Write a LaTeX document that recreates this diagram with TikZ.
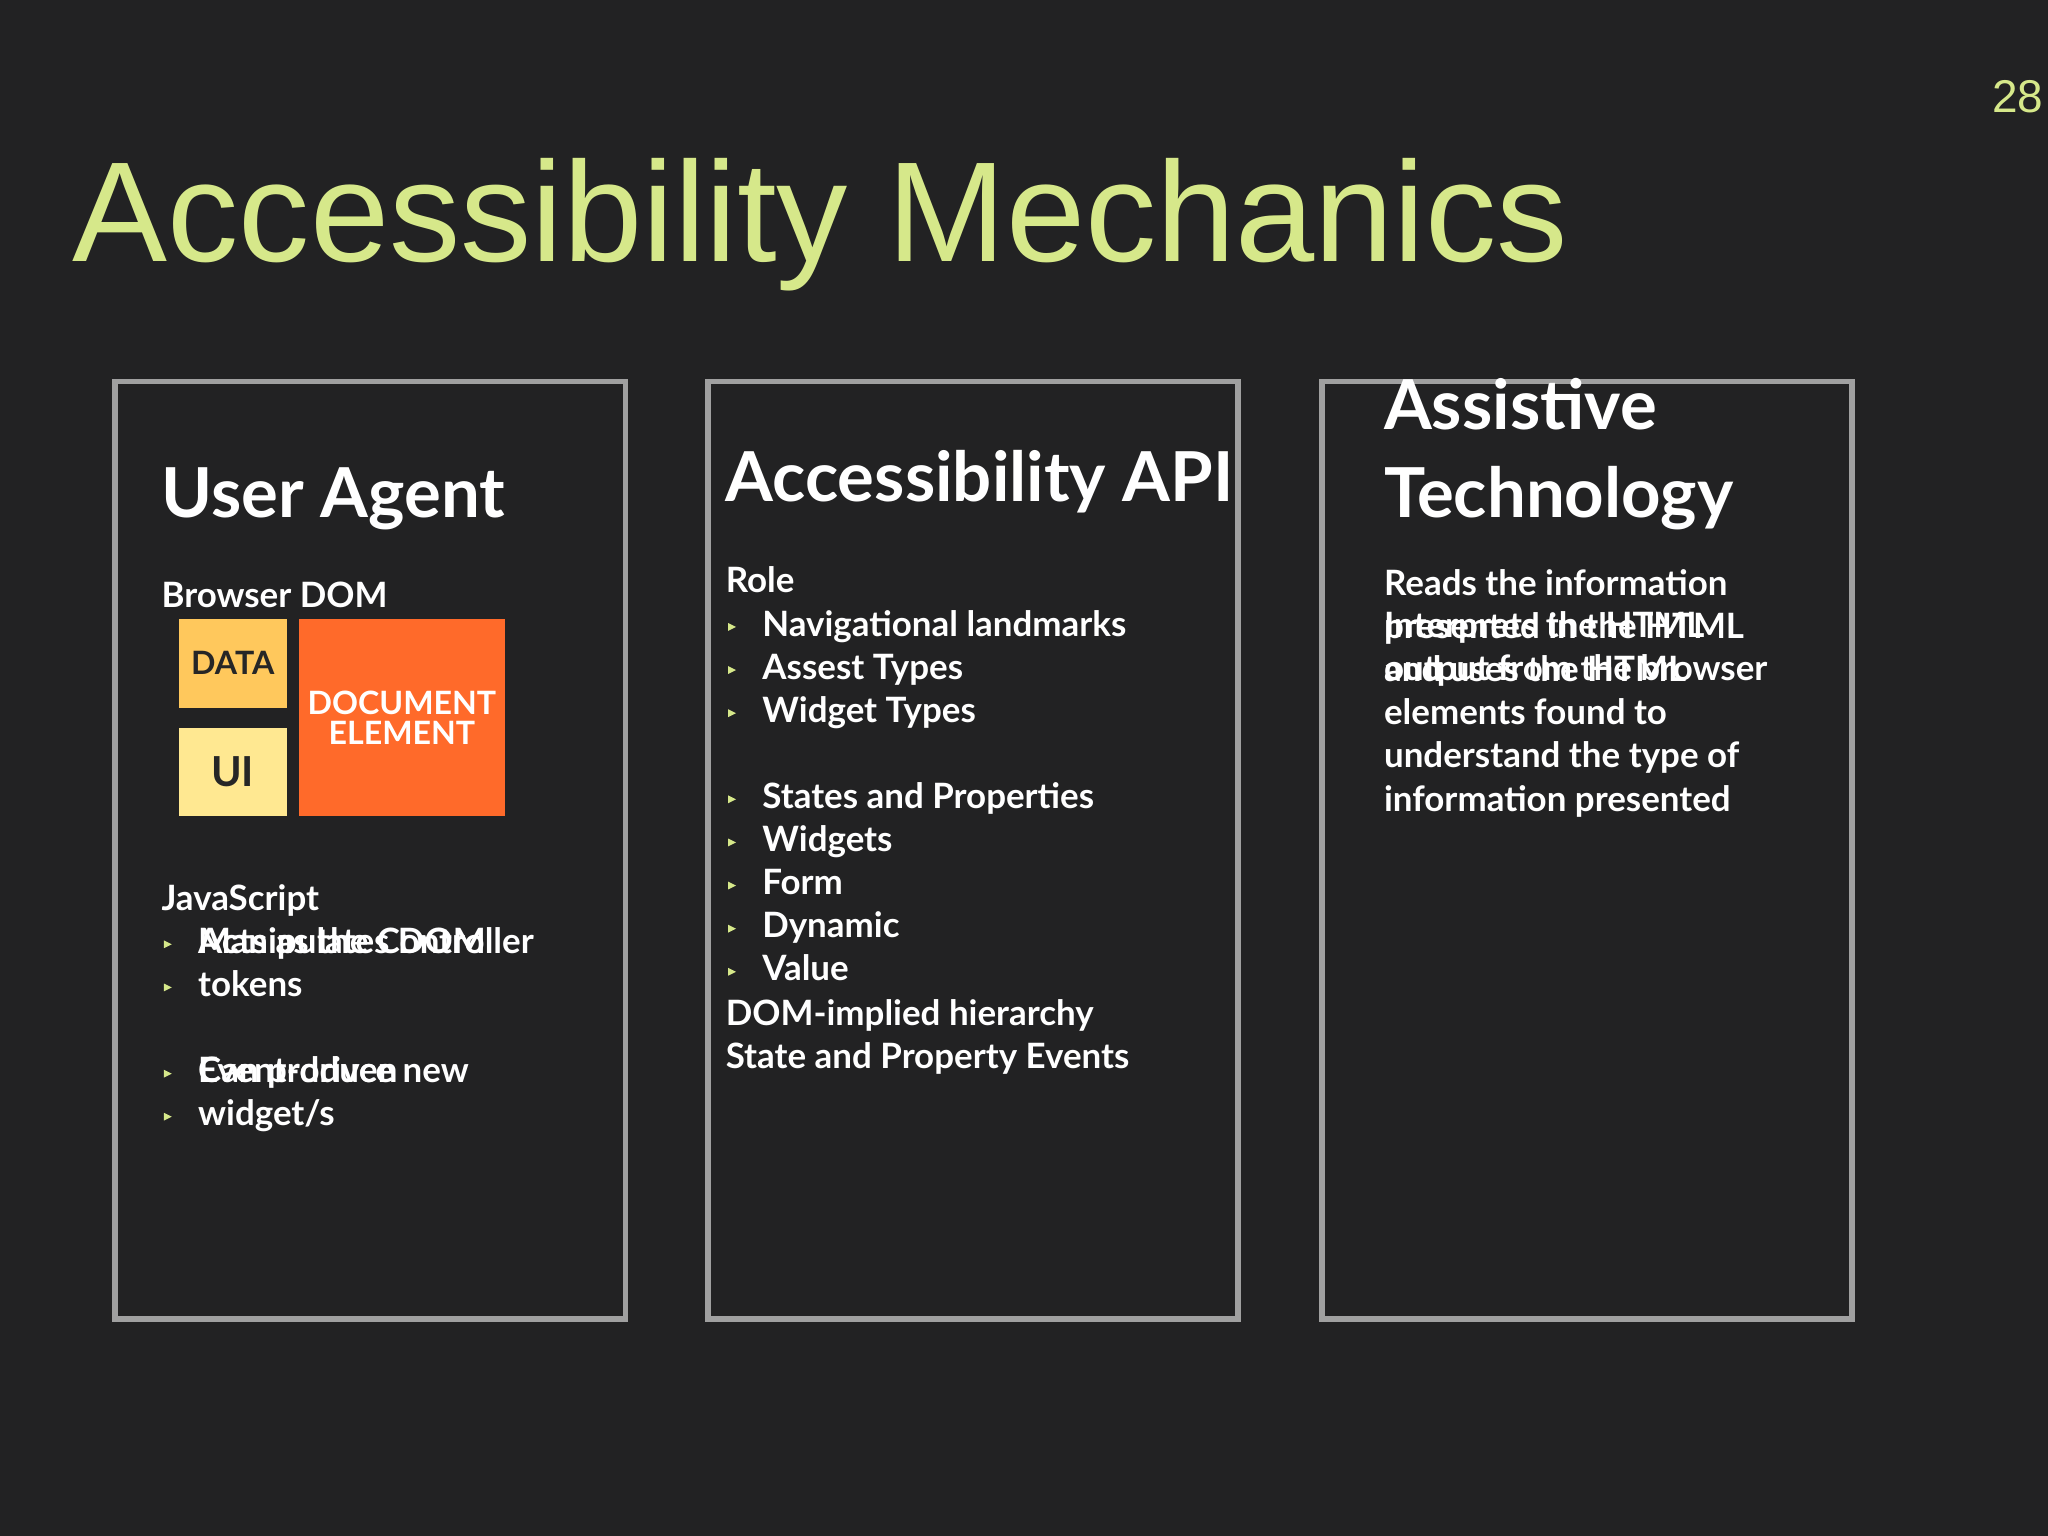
\documentclass[tikz,border=0pt]{standalone}
\usepackage{fontspec}
\setmainfont{Lato}
\newfontfamily\titlefont{Liberation Sans}
\definecolor{bg}{HTML}{222223}
\definecolor{ttl}{HTML}{D6E88A}
\definecolor{frm}{HTML}{A0A0A0}
\definecolor{dat}{HTML}{FFC85C}
\definecolor{uic}{HTML}{FFE891}
\definecolor{doc}{HTML}{FF6A2A}
\tikzset{
 panel/.style={draw=frm,line width=1.2pt},
 head/.style={anchor=base west,inner sep=0,text=white,font=\bfseries\fontsize{15}{19}\selectfont,align=left},
 body/.style={anchor=base west,inner sep=0,text=white,font=\bfseries\fontsize{7.6}{9.4}\selectfont,align=left},
 blt/.style={fill=ttl,draw=none},
 tile/.style={draw=none,inner sep=0,font=\bfseries\fontsize{7}{6.5}\selectfont,align=center}
}
\newcommand{\bul}[2]{\fill[ttl] (#1-2.5,#2-10) -- (#1+3.5,#2-7) -- (#1-2.5,#2-4) -- cycle;}
\begin{document}
\begin{tikzpicture}[x=0.01cm,y=-0.01cm]
\fill[bg] (0,0) rectangle (1568,1176);
\useasboundingbox (0,0) rectangle (1568,1176);
\node[anchor=base east,inner sep=0,text=ttl,font=\titlefont\fontsize{10}{12}\selectfont] (pg) at (1565,86) {28};
\node[anchor=base west,inner sep=0,text=ttl,font=\titlefont\fontsize{31}{36}\selectfont] (title) at (55,200) {Accessibility Mechanics};
\draw[panel] (88,292) rectangle (479,1010);
\draw[panel] (542,292) rectangle (948,1010);
\draw[panel] (1012,292) rectangle (1418,1010);
% left
\node[head] (ua) at (123,396) {User Agent};
\node[body] (bd) at (123,465) {Browser DOM};
\node[tile,fill=dat,minimum width=83*0.01cm,minimum height=68*0.01cm,anchor=north west,text=black!85] (data) at (136,473) {DATA};
\node[tile,fill=uic,minimum width=83*0.01cm,minimum height=67*0.01cm,anchor=north west,text=black!85,font=\bfseries\fontsize{9}{9}\selectfont] (ui) at (136,557) {UI};
\node[tile,fill=doc,minimum width=158*0.01cm,minimum height=151*0.01cm,anchor=north west,text=white] (de) at (228,473) {DOCUMENT\\ELEMENT};
\node[body] (js) at (123,697) {JavaScript};
\node[body] (l1) at (151,730) {Acts as the Controller};
\node[body] (l2) at (151,763) {Manipulates DOM\\tokens};
\node[body] (l3) at (151,829) {Event-driven};
\node[body] (l4) at (151,862) {Can produce new\\widget/s};
\bul{128}{730}\bul{128}{763}\bul{128}{829}\bul{128}{862}
% middle
\node[head] (api) at (555,384) {Accessibility API};
\node[body] (role) at (555,454) {Role};
\foreach \t/\y in {Navigational landmarks/487,Assest Types/520,Widget Types/553,States and Properties/619,Widgets/652,Form/685,Dynamic/718,Value/751}{
 \node[body] at (583,\y) {\t};
 \bul{560}{\y}
}
\node[body] (dom) at (555,818) {DOM-implied hierarchy\\State and Property Events};
% right
\node[head] (at) at (1059,396) {Assistive\\Technology};
\node[body] (r1) at (1059,521) {Interprets the HTML\\output from the browser};
\node[body] (r2) at (1059,621) {Reads the information\\presented in the HTML\\and uses the HTML\\elements found to\\understand the type of\\information presented};
\end{tikzpicture}
\end{document}
